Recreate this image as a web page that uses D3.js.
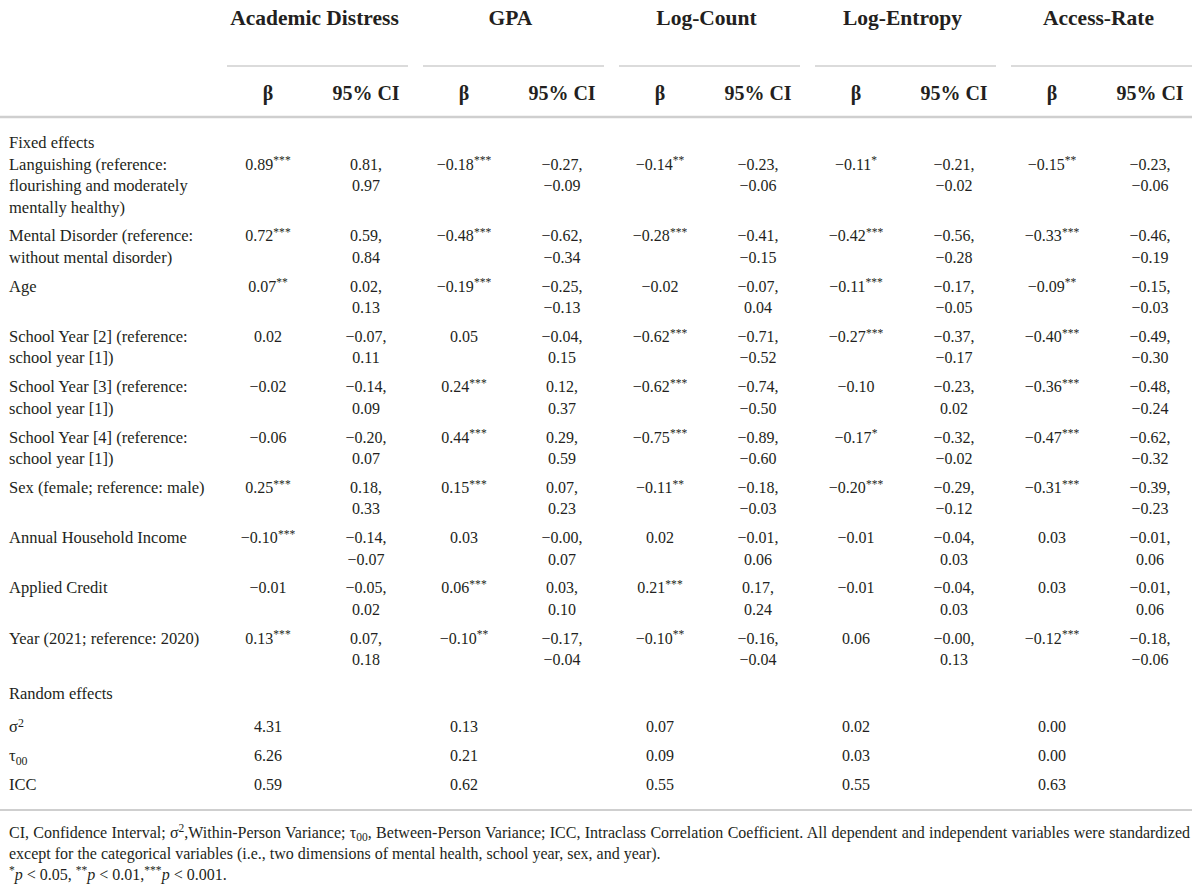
<!DOCTYPE html>
<html>
<head>
<meta charset="utf-8">
<script src="https://cdn.jsdelivr.net/npm/d3@7.9.0/dist/d3.min.js"></script>
<style>
  body { margin: 0; background: #fff; }
  svg text { font-family: "Liberation Serif", "Times New Roman", serif; fill: #231f20; }
</style>
</head>
<body>
<svg id="table" width="1200" height="893"></svg>
<script>
// Outcomes (column groups) and the two sub columns in each
const outcomes = ["Academic Distress", "GPA", "Log-Count", "Log-Entropy", "Access-Rate"];
const subHeads = ["β", "95% CI"];

// Fixed effects: wrapped row labels
const fixedLabels = [
  ["Languishing (reference:", "flourishing and moderately", "mentally healthy)"],
  ["Mental Disorder (reference:", "without mental disorder)"],
  ["Age"],
  ["School Year [2] (reference:", "school year [1])"],
  ["School Year [3] (reference:", "school year [1])"],
  ["School Year [4] (reference:", "school year [1])"],
  ["Sex (female; reference: male)"],
  ["Annual Household Income"],
  ["Applied Credit"],
  ["Year (2021; reference: 2020)"]
];

// β per row, one per outcome
const betaValues = [
  [0.89, -0.18, -0.14, -0.11, -0.15],
  [0.72, -0.48, -0.28, -0.42, -0.33],
  [0.07, -0.19, -0.02, -0.11, -0.09],
  [0.02, 0.05, -0.62, -0.27, -0.40],
  [-0.02, 0.24, -0.62, -0.10, -0.36],
  [-0.06, 0.44, -0.75, -0.17, -0.47],
  [0.25, 0.15, -0.11, -0.20, -0.31],
  [-0.10, 0.03, 0.02, -0.01, 0.03],
  [-0.01, 0.06, 0.21, -0.01, 0.03],
  [0.13, -0.10, -0.10, 0.06, -0.12]
];

// significance stars for each β
const betaStars = [
  ["***", "***", "**", "*", "**"],
  ["***", "***", "***", "***", "***"],
  ["**", "***", "", "***", "**"],
  ["", "", "***", "***", "***"],
  ["", "***", "***", "", "***"],
  ["", "***", "***", "*", "***"],
  ["***", "***", "**", "***", "***"],
  ["***", "", "", "", ""],
  ["", "***", "***", "", ""],
  ["***", "**", "**", "", "***"]
];

// 95% CI bounds
const ciLow = [
  [0.81, -0.27, -0.23, -0.21, -0.23],
  [0.59, -0.62, -0.41, -0.56, -0.46],
  [0.02, -0.25, -0.07, -0.17, -0.15],
  [-0.07, -0.04, -0.71, -0.37, -0.49],
  [-0.14, 0.12, -0.74, -0.23, -0.48],
  [-0.20, 0.29, -0.89, -0.32, -0.62],
  [0.18, 0.07, -0.18, -0.29, -0.39],
  [-0.14, -0.00, -0.01, -0.04, -0.01],
  [-0.05, 0.03, 0.17, -0.04, -0.01],
  [0.07, -0.17, -0.16, -0.00, -0.18]
];
const ciHigh = [
  [0.97, -0.09, -0.06, -0.02, -0.06],
  [0.84, -0.34, -0.15, -0.28, -0.19],
  [0.13, -0.13, 0.04, -0.05, -0.03],
  [0.11, 0.15, -0.52, -0.17, -0.30],
  [0.09, 0.37, -0.50, 0.02, -0.24],
  [0.07, 0.59, -0.60, -0.02, -0.32],
  [0.33, 0.23, -0.03, -0.12, -0.23],
  [-0.07, 0.07, 0.06, 0.03, 0.06],
  [0.02, 0.10, 0.24, 0.03, 0.06],
  [0.18, -0.04, -0.04, 0.13, -0.06]
];

// Random effects
const randomLabels = [
  [{ t: "σ" }, { t: "2", sup: true }],
  [{ t: "τ" }, { t: "00", sub: true }],
  [{ t: "ICC" }]
];
const randomValues = [
  [4.31, 0.13, 0.07, 0.02, 0.00],
  [6.26, 0.21, 0.09, 0.03, 0.00],
  [0.59, 0.62, 0.55, 0.55, 0.63]
];

const notes = [
  [{ t: "CI, Confidence Interval; σ" }, { t: "2", sup: true }, { t: ",Within-Person Variance; τ" }, { t: "00", sub: true },
   { t: ", Between-Person Variance; ICC, Intraclass Correlation Coefficient. All dependent and independent variables were standardized" }],
  [{ t: "except for the categorical variables (i.e., two dimensions of mental health, school year, sex, and year)." }],
  [{ t: "*", sup: true }, { t: "p", it: true }, { t: " < 0.05, " }, { t: "**", sup: true }, { t: "p", it: true },
   { t: " < 0.01," }, { t: "***", sup: true }, { t: "p", it: true }, { t: " < 0.001." }]
];

// ---- layout ----
const left = 9, right = 1192;
const bodySize = 16, labelSize = 16.5, headSize = 21.5, subSize = 20;
const lineH = 21.5, rowPad = 7.3;
const lineColor = "#cfcfcf";

const svg = d3.select("#table");

// number formatting keeps the sign of −0.00
const fmt = v => (v < 0 || Object.is(v, -0) ? "\u2212" : "") + Math.abs(v).toFixed(2);

const xGroup = d3.scaleBand().domain(outcomes).range([227, right]).paddingInner(15 / 196);
const xSub = d3.scalePoint().domain(subHeads).range([41, 139]);
const colX = (o, s) => xGroup(o) + xSub(s);

// write text made of segments (sup/sub/italic)
function rich(text, segs, size) {
  let shift = 0;
  segs.forEach(s => {
    const target = s.sup ? -size * 0.33 : s.sub ? size * 0.22 : 0;
    const ts = text.append("tspan").text(s.t).attr("dy", target - shift);
    if (s.sup || s.sub) ts.attr("font-size", size * 0.72);
    if (s.it) ts.attr("font-style", "italic");
    shift = target;
  });
  return text;
}

const base = c => c + 5.5; // baseline from visual centre

// Column headers
svg.selectAll("text.outcome")
  .data(outcomes)
  .join("text")
  .attr("class", "outcome")
  .attr("x", d => xGroup(d) + xGroup.bandwidth() / 2 - 3)
  .attr("y", base(17) + 2)
  .attr("text-anchor", "middle")
  .attr("font-weight", "bold")
  .attr("font-size", headSize)
  .text(d => d);

svg.selectAll("line.group")
  .data(outcomes)
  .join("line")
  .attr("class", "group")
  .attr("x1", d => xGroup(d))
  .attr("x2", d => xGroup(d) + xGroup.bandwidth())
  .attr("y1", 66).attr("y2", 66)
  .attr("stroke", lineColor)
  .attr("stroke-width", 1.5);

outcomes.forEach(o => {
  subHeads.forEach(s => {
    svg.append("text")
      .attr("x", colX(o, s))
      .attr("y", base(93) + 1)
      .attr("text-anchor", "middle")
      .attr("font-weight", "bold")
      .attr("font-size", subSize)
      .text(s);
  });
});

svg.append("line")
  .attr("x1", 0).attr("x2", right)
  .attr("y1", 117).attr("y2", 117)
  .attr("stroke", lineColor)
  .attr("stroke-width", 2.5);

// Section title helper
function sectionTitle(label, y) {
  svg.append("text").attr("x", left).attr("y", base(y)).attr("font-size", labelSize).text(label);
}

// Fixed effects
sectionTitle("Fixed effects", 142);
let y = 164;
fixedLabels.forEach((lab, i) => {
  const g = svg.append("g");
  lab.forEach((line, k) => {
    g.append("text").attr("x", left).attr("y", base(y + k * lineH)).attr("font-size", labelSize).text(line);
  });
  outcomes.forEach((o, j) => {
    const t = g.append("text")
      .attr("x", colX(o, "β"))
      .attr("y", base(y))
      .attr("text-anchor", "middle")
      .attr("font-size", bodySize);
    const segs = [{ t: fmt(betaValues[i][j]) }];
    if (betaStars[i][j]) segs.push({ t: betaStars[i][j], sup: true });
    rich(t, segs, bodySize);

    g.append("text")
      .attr("x", colX(o, "95% CI"))
      .attr("y", base(y))
      .attr("text-anchor", "middle")
      .attr("font-size", bodySize)
      .text(fmt(ciLow[i][j]) + ",");
    g.append("text")
      .attr("x", colX(o, "95% CI"))
      .attr("y", base(y + lineH))
      .attr("text-anchor", "middle")
      .attr("font-size", bodySize)
      .text(fmt(ciHigh[i][j]));
  });
  const n = Math.max(lab.length, 2);
  y += n * lineH + rowPad;
});

// Random effects
y += 5;
sectionTitle("Random effects", y);
y += 33;
randomLabels.forEach((lab, i) => {
  rich(svg.append("text").attr("x", left).attr("y", base(y)).attr("font-size", labelSize), lab, labelSize);
  outcomes.forEach((o, j) => {
    svg.append("text")
      .attr("x", colX(o, "β"))
      .attr("y", base(y))
      .attr("text-anchor", "middle")
      .attr("font-size", bodySize)
      .text(fmt(randomValues[i][j]));
  });
  y += 29;
});

svg.append("line")
  .attr("x1", 0).attr("x2", right)
  .attr("y1", 810).attr("y2", 810)
  .attr("stroke", lineColor)
  .attr("stroke-width", 2);

// Footnotes
notes.forEach((segs, i) => {
  const t = svg.append("text")
    .attr("x", left)
    .attr("y", base(832 + i * 21))
    .attr("font-size", bodySize);
  rich(t, segs, bodySize);
  if (i === 0) {
    // justify the first line like the printed table
    const natural = t.node().getComputedTextLength();
    const spaces = segs.map(s => s.t).join("").split(" ").length - 1;
    t.attr("word-spacing", (right - 2 - left - natural) / spaces);
  }
});
</script>
</body>
</html>
